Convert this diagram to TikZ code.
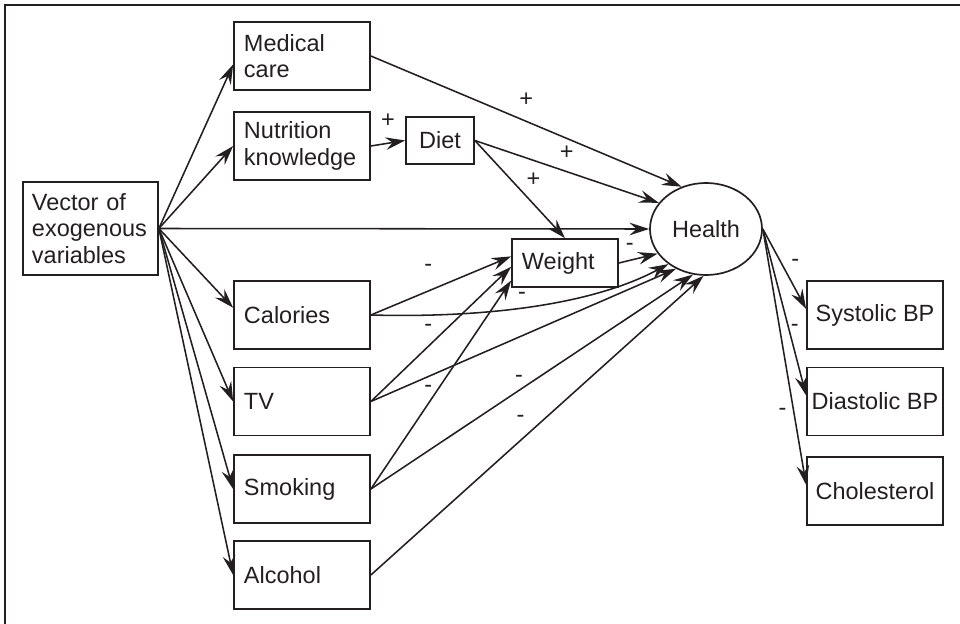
\documentclass[tikz,border=0pt]{standalone}
\usepackage{fontspec}
\setmainfont{Liberation Sans}
\usepackage{tikz}
\usetikzlibrary{arrows.meta,shapes.geometric}
\definecolor{ink}{HTML}{231F20}

\begin{document}
\begin{tikzpicture}[x=0.025cm,y=0.025cm,
        every node/.style={font=\fontsize{16.7}{19}\selectfont,text=ink},
        box/.style={draw=ink,line width=1.2pt,minimum width=3.4cm,minimum height=1.7cm,text width=2.9cm,align=left,inner xsep=0.25cm,inner ysep=0pt},
        outbox/.style={draw=ink,line width=1.2pt,minimum width=3.4cm,minimum height=1.7cm,inner sep=0pt},
        arr/.style={ink,line width=1.1pt,-{Stealth[length=14pt,width=9pt,inset=5pt]}},
        sgn/.style={inner sep=0pt,text height=0.54em,text depth=0pt}]
        %\draw[gray] (0,0) grid[step=50] (960,-624);
        \useasboundingbox (0,0) rectangle (960,-624);
        \draw[ink,line width=1.1pt] (5,-624) -- (5,-5) -- (960,-5);

        \node[box,minimum width=3.375cm,minimum height=2.325cm,text width=2.925cm,inner xsep=0.225cm] (Vec) at (90.5,-228.5) {Vector of\\exogenous\\variables};
        \node[box] (Med) at (302,-56) {Medical\\care};
        \node[box] (Nut) at (302,-146) {Nutrition\\knowledge};
        \node[box] (Cal) at (302,-315) {Calories};
        \node[box] (TV) at (302,-401.5) {TV};
        \node[box] (Smk) at (302,-489) {Smoking};
        \node[box] (Alc) at (302,-575) {Alcohol};

        \node[outbox,minimum width=1.7cm,minimum height=1.175cm] (Diet) at (440,-140.5) {Diet};
        \node[box,minimum width=2.65cm,minimum height=1.2cm,text width=2.15cm] (Wt) at (565,-263) {Weight};
        \node[draw=ink,line width=1.2pt,ellipse,minimum width=2.8cm,minimum height=2.3cm,inner sep=0pt] (Hlth) at (706,-229) {Health};

        \node[outbox] (Sys) at (875,-315) {Systolic BP};
        \node[outbox] (Dia) at (875,-401.5) {Diastolic BP};
        \node[outbox] (Chol) at (875,-491) {Cholesterol};

        \draw[arr] (Vec.east) -- (Med.187.5);
        \draw[arr] (Vec.east) -- (Nut.west);
        \draw[arr] (Vec.east) -- (Cal.174);
        \draw[arr] (Vec.east) -- (TV.west);
        \draw[arr] (Vec.east) -- (Smk.west);
        \draw[arr] (Vec.east) -- (Alc.west);
        \draw[arr] (Vec.east) -- (Hlth.west);

        \draw[arr] (Med.east) -- node[sgn,yshift=0.47cm] {+} (Hlth.120.6);
        \draw[arr] (Nut.east) -- node[sgn,yshift=0.48cm] {+} (Diet.west);
        \draw[arr] (Diet.east) -- node[sgn,yshift=0.4cm] {+} (Hlth.151.8);
        \draw[arr] (Diet.east) -- node[sgn,pos=0.65,yshift=0.53cm] {+} (Wt.north);
        \draw[arr] (Wt.east) -- node[sgn,pos=0.28,yshift=0.34cm] {-} (Hlth.207.2);

        \draw[arr] (Cal.east) -- node[sgn,pos=0.41,yshift=0.58cm] {-} (Wt.173.5);
        \draw[arr] (Cal.east) .. controls (480,-318) and (590,-306) .. node[sgn,pos=0.47,yshift=0.3cm] {-} (Hlth.223.5);
        \draw[arr] (TV.east) -- node[sgn,pos=0.41,yshift=0.46cm] {-} (Wt.184);
        \draw[arr] (TV.east) -- (Hlth.233.4);
        \draw[arr] (Smk.east) -- node[sgn,pos=0.41,yshift=0.37cm] {-} (Wt.198);
        \draw[arr] (Smk.east) -- node[sgn,pos=0.46,yshift=0.28cm] {-} (Hlth.254.8);
        \draw[arr] (Alc.east) -- node[sgn,pos=0.45,yshift=0.53cm] {-} (Hlth.267.5);

        \draw[arr] (Hlth.east) -- node[sgn,pos=0.425,xshift=0.35cm] {-} (Sys.175);
        \draw[arr] (Hlth.east) -- node[sgn,pos=0.59,xshift=0.16cm] {-} (Dia.175);
        \draw[arr] (Hlth.east) -- node[sgn,pos=0.715,xshift=-0.28cm] {-} (Chol.175);
\end{tikzpicture}
\end{document}
